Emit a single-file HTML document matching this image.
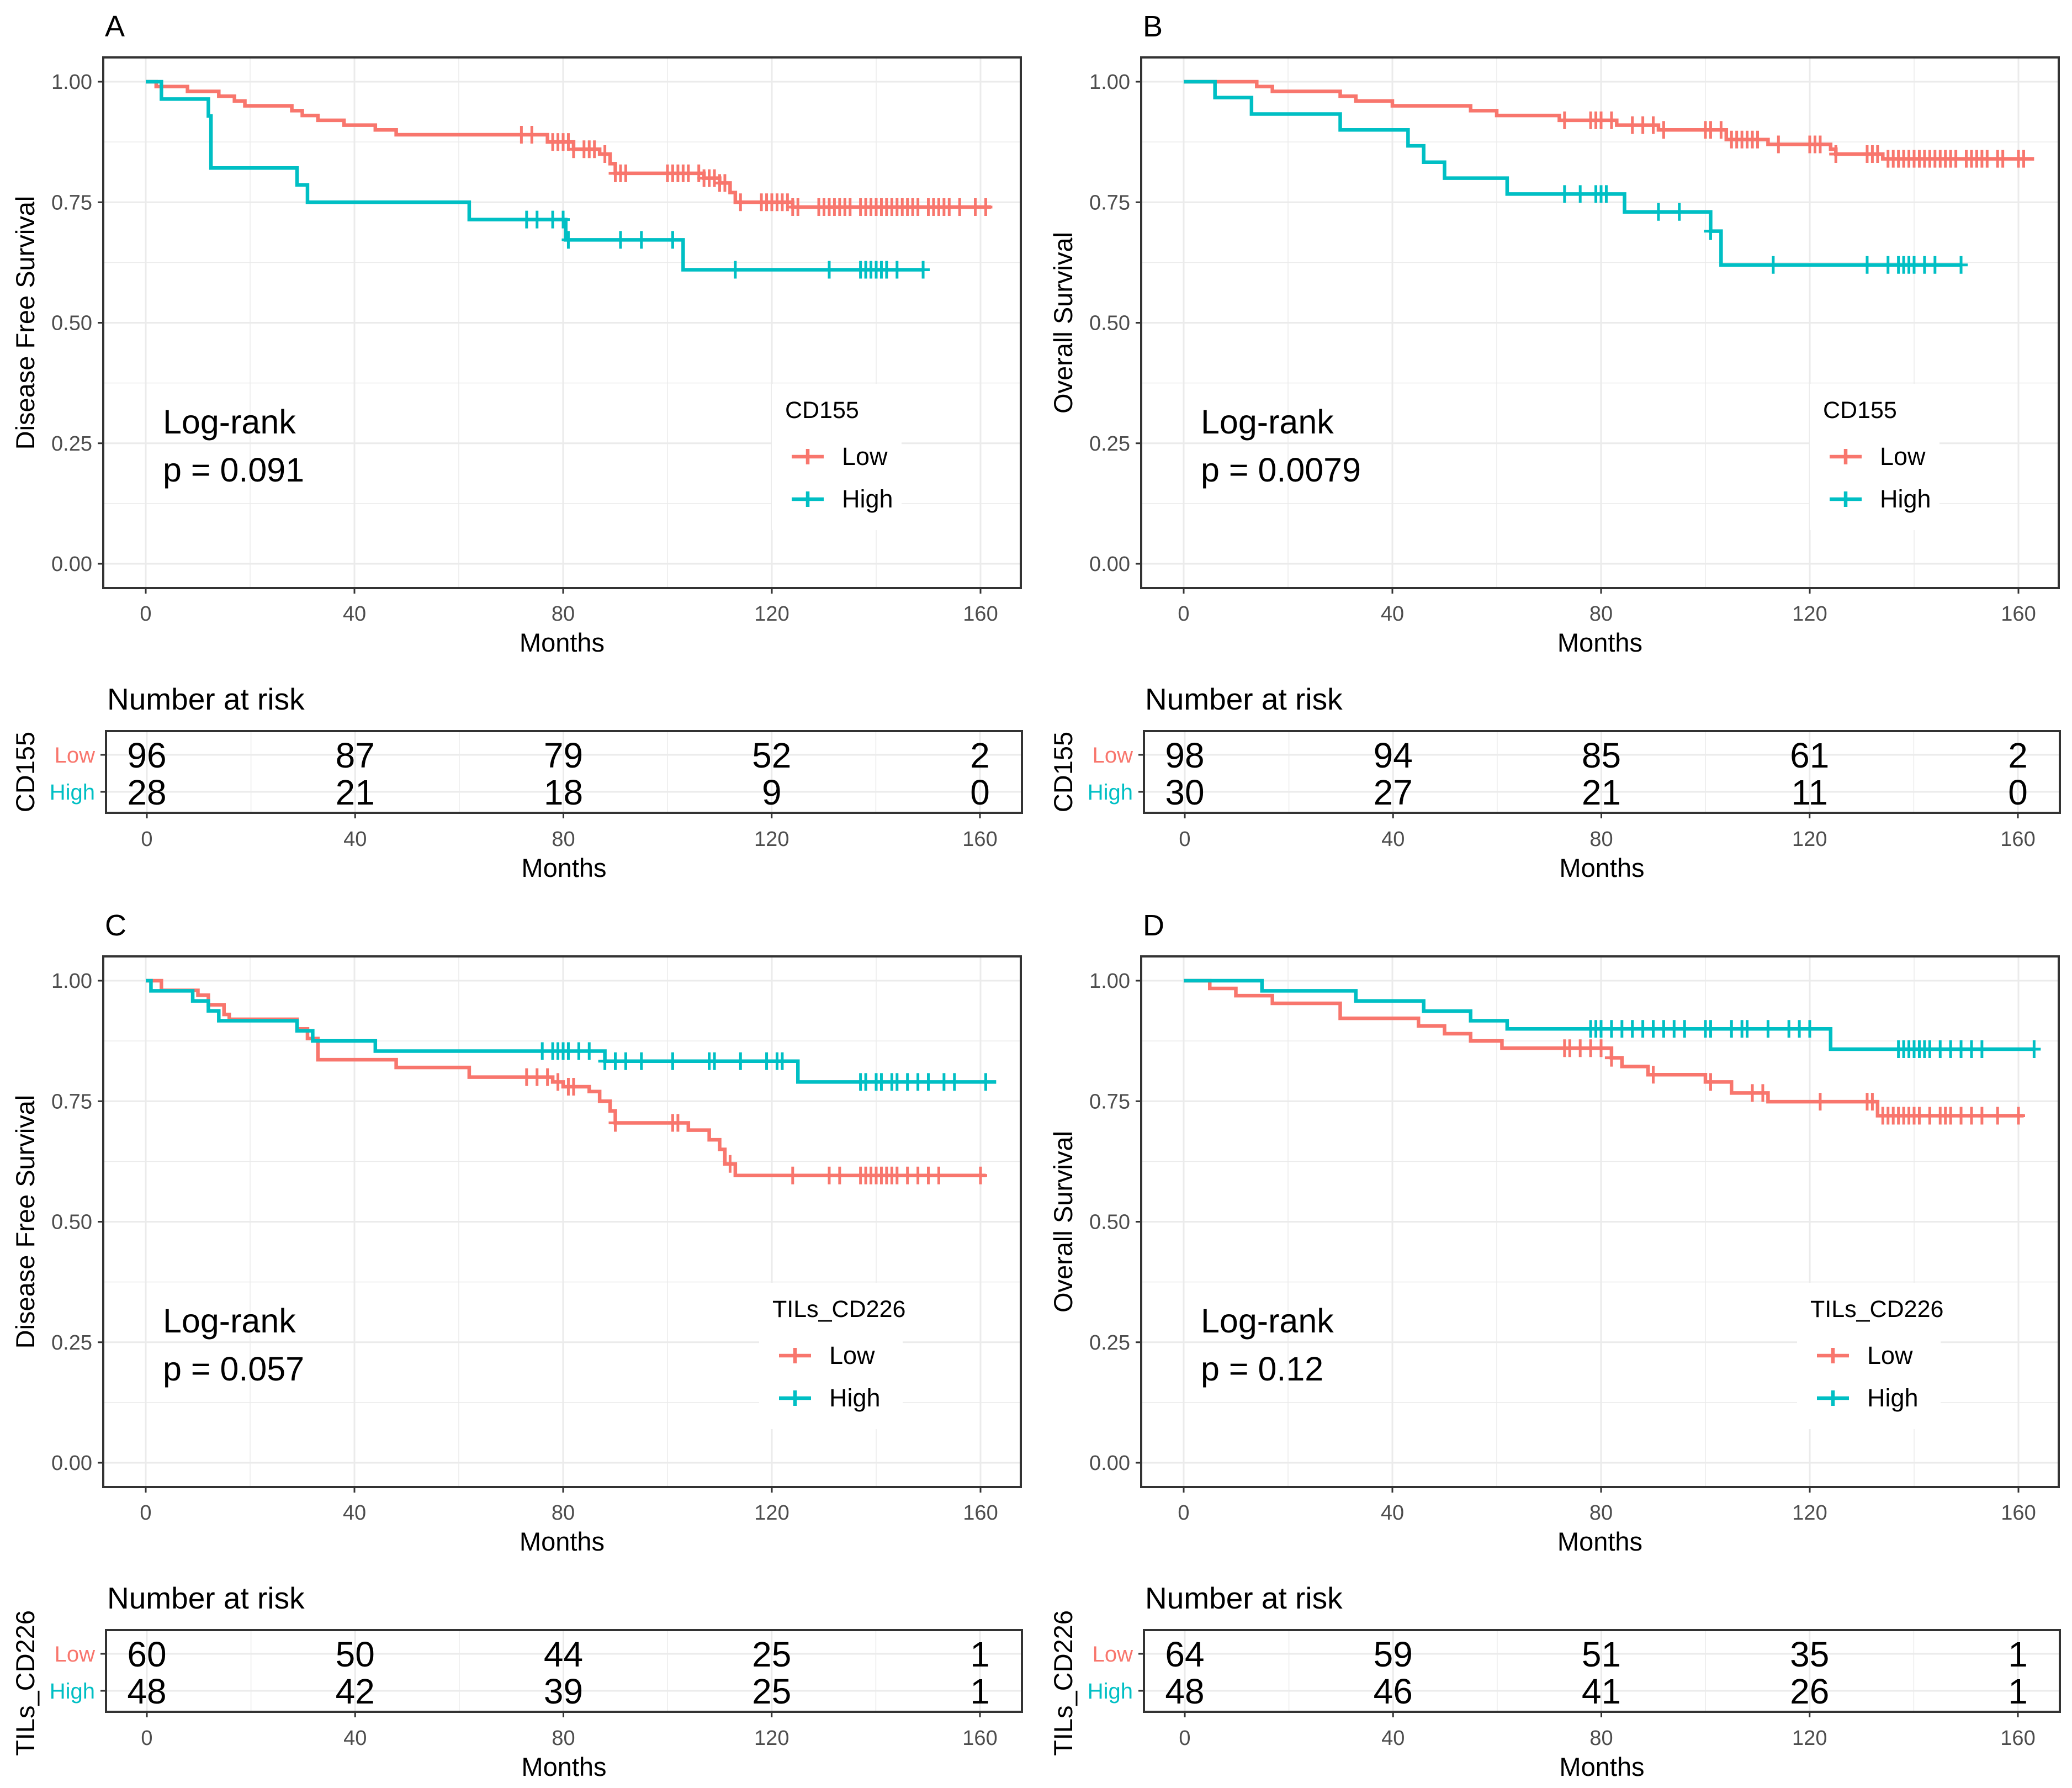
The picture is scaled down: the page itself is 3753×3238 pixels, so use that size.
<!DOCTYPE html>
<html><head><meta charset="utf-8"><style>
html,body{margin:0;padding:0;background:#fff;}
svg{display:block;font-family:"Liberation Sans",Arial,sans-serif;}
</style></head>
<body>
<svg id="fig" width="3753" height="3238" viewBox="0 0 3753 3238" xmlns="http://www.w3.org/2000/svg"></svg>
<script>
// ---------- DATA ----------
// Panel A (DFS, CD155)
const aLowT = [0,2,8,14,17,19,28,30,33,38,44,48,77,82,87,89,90,107,110,112,113,124];
const aLowS = [1,0.99,0.98,0.97,0.96,0.95,0.94,0.93,0.92,0.91,0.90,0.89,0.875,0.86,0.85,0.83,0.81,0.80,0.79,0.77,0.75,0.74];
const aLowEnd = 162;
const aLowC = [72,74,78,79,80,81,82,84,85,86,88,90,91,92,100,101,102,103,104,106,107,108,109,110,111,114,118,119,120,121,122,123,124,125,129,130,131,132,133,134,135,137,138,139,140,141,142,143,144,145,146,147,148,150,151,152,153,154,156,159,161];
const aHighT = [0,3,12,12.5,29,31,62,80.5,103];
const aHighS = [1,0.964,0.929,0.821,0.786,0.75,0.714,0.672,0.61];
const aHighEnd = 149;
const aHighC = [73,75,78,80,81,91,95,101,113,131,137,138,139,140,141,142,144,149];
// Panel B (OS, CD155)
const bLowT = [0,14,17,30,33,40,55,60,72,83,91,104,112,124,125,134];
const bLowS = [1,0.99,0.98,0.97,0.96,0.95,0.94,0.93,0.92,0.91,0.90,0.88,0.87,0.86,0.85,0.84];
const bLowEnd = 163;
const bLowC = [73,78,79,80,82,86,88,90,92,100,101,103,105,106,107,108,109,110,114,120,121,122,125,131,132,133,135,136,137,138,139,140,141,142,143,144,145,146,147,148,150,151,152,153,154,156,157,160,161];
const bHighT = [0,6,13,30,43,46,50,62,84.5,101,103];
const bHighS = [1,0.967,0.933,0.90,0.867,0.833,0.80,0.767,0.73,0.69,0.62];
const bHighEnd = 149;
const bHighC = [73,76,79,80,81,91,95,101,113,131,135,137,138,139,140,142,144,149];
// Panel C (DFS, TILs_CD226)
const cLowT = [0,3,10,12,15,16,29,31,33,48,62,78,80,85,87,89,90,104,108,110,111,113];
const cLowS = [1,0.98,0.97,0.95,0.93,0.92,0.90,0.88,0.836,0.82,0.80,0.79,0.78,0.77,0.75,0.73,0.705,0.69,0.67,0.65,0.62,0.596];
const cLowEnd = 161;
const cLowC = [73,75,77,79,81,82,90,101,102,112,124,131,133,137,138,139,140,141,142,143,144,146,148,150,152,160];
const cHighT = [0,1,9,12,14,29,32,44,88,125];
const cHighS = [1,0.979,0.958,0.9375,0.917,0.896,0.875,0.854,0.833,0.79];
const cHighEnd = 163;
const cHighC = [76,78,79,80,81,83,85,88,90,92,95,101,108,109,114,119,121,122,137,138,140,141,143,144,146,148,150,153,155,161];
// Panel D (OS, TILs_CD226)
const dLowT = [0,5,10,17,30,45,50,55,61,82,84,89,100,105,112,133];
const dLowS = [1,0.984,0.969,0.953,0.922,0.906,0.89,0.875,0.86,0.84,0.822,0.805,0.79,0.767,0.749,0.72];
const dLowEnd = 161;
const dLowC = [73,74,76,78,80,82,90,101,109,111,122,131,132,134,135,136,137,138,139,140,141,143,145,146,147,149,151,153,156,160];
const dHighT = [0,15,33,46,55,62,124];
const dHighS = [1,0.979,0.958,0.937,0.917,0.9,0.858];
const dHighEnd = 163;
const dHighC = [78,79,80,82,84,86,88,90,92,94,96,100,101,105,107,108,112,116,118,120,137,138,139,140,141,142,143,145,147,149,151,153,163];
// Risk tables
const riskTimes = [0,40,80,120,160];
const aRiskLow = [96,87,79,52,2], aRiskHigh = [28,21,18,9,0];
const bRiskLow = [98,94,85,61,2], bRiskHigh = [30,27,21,11,0];
const cRiskLow = [60,50,44,25,1], cRiskHigh = [48,42,39,25,1];
const dRiskLow = [64,59,51,35,1], dRiskHigh = [48,46,41,26,1];
const xTicks = [0,40,80,120,160];
const yTicks = [0,0.25,0.5,0.75,1];
const yTickLabels = ["0.00","0.25","0.50","0.75","1.00"];

// ---------- DRAW ----------
const NS="http://www.w3.org/2000/svg";
const svg=document.getElementById('fig');
const RED="#F8766D", TEAL="#00BFC4";
function mk(tag,attrs,parent,text){const e=document.createElementNS(NS,tag);for(const k in attrs)e.setAttribute(k,attrs[k]);if(text!==undefined)e.textContent=text;parent.appendChild(e);return e;}

const panels=[
 {id:'a',letter:'A',ox:0,oy:0,ytitle:'Disease Free Survival',strata:'CD155',p:'p = 0.091',
  low:[aLowT,aLowS,aLowEnd,aLowC],high:[aHighT,aHighS,aHighEnd,aHighC],rl:aRiskLow,rh:aRiskHigh},
 {id:'b',letter:'B',ox:1880,oy:0,ytitle:'Overall Survival',strata:'CD155',p:'p = 0.0079',
  low:[bLowT,bLowS,bLowEnd,bLowC],high:[bHighT,bHighS,bHighEnd,bHighC],rl:bRiskLow,rh:bRiskHigh},
 {id:'c',letter:'C',ox:0,oy:1628,ytitle:'Disease Free Survival',strata:'TILs_CD226',p:'p = 0.057',
  low:[cLowT,cLowS,cLowEnd,cLowC],high:[cHighT,cHighS,cHighEnd,cHighC],rl:cRiskLow,rh:cRiskHigh},
 {id:'d',letter:'D',ox:1880,oy:1628,ytitle:'Overall Survival',strata:'TILs_CD226',p:'p = 0.12',
  low:[dLowT,dLowS,dLowEnd,dLowC],high:[dHighT,dHighS,dHighEnd,dHighC],rl:dRiskLow,rh:dRiskHigh}
];

panels.forEach(P=>{
 const g=mk('g',{transform:`translate(${P.ox},${P.oy})`},svg);
 
 
 const L=187,R=1849,T=104,B=1065;
 const x=t=>264+(t/160)*(1776-264);
 const y=s=>1021-s*(1021-148);
 const lt=mk('text',{x:190,y:66,'font-size':54,fill:'#000'},g,P.letter);
 
 
 mk('rect',{x:L,y:T,width:R-L,height:B-T,fill:'#fff'},g);
 const grid=mk('g',{},g);
 
 
 for(let t=20;t<160;t+=40) mk('line',{x1:x(t),x2:x(t),y1:T,y2:B,stroke:'#EBEBEB','stroke-width':1.5},grid);
 for(let s=0.125;s<1;s+=0.25) mk('line',{x1:L,x2:R,y1:y(s),y2:y(s),stroke:'#EBEBEB','stroke-width':1.5},grid);
 xTicks.forEach(t=>mk('line',{x1:x(t),x2:x(t),y1:T,y2:B,stroke:'#EBEBEB','stroke-width':3},grid));
 yTicks.forEach(s=>mk('line',{x1:L,x2:R,y1:y(s),y2:y(s),stroke:'#EBEBEB','stroke-width':3},grid));
 [[P.low,RED,'low'],[P.high,TEAL,'high']].forEach(([d,col,nm])=>{
  const [Ts,Ss,end,Cs]=d;
  let path=`M${x(Ts[0])},${y(Ss[0])}`;
  for(let i=1;i<Ts.length;i++) path+=`H${x(Ts[i])}V${y(Ss[i])}`;
  path+=`H${x(end)}`;
  const pe=mk('path',{d:path,fill:'none',stroke:col,'stroke-width':6.5},g);
  
  
  const stepAt=t=>{let s=Ss[0];for(let i=0;i<Ts.length;i++){if(Ts[i]<=t)s=Ss[i];}return s;};
  Cs.forEach(t=>{
   const cx=x(t),cy=y(stepAt(t));
   const c=mk('path',{d:`M${cx-12},${cy}H${cx+12}M${cx},${cy-16}V${cy+16}`,stroke:col,'stroke-width':5,fill:'none'},g);
   
   
  });
 });
 mk('rect',{x:L,y:T,width:R-L,height:B-T,fill:'none',stroke:'#333','stroke-width':4},g);
 yTicks.forEach((s,i)=>{
  mk('line',{x1:L-10,x2:L,y1:y(s),y2:y(s),stroke:'#333','stroke-width':3},g);
  const tt=mk('text',{x:L-20,y:y(s)+13,'font-size':38,fill:'#4D4D4D','text-anchor':'end'},g,yTickLabels[i]);
  
  
 });
 xTicks.forEach(t=>{
  mk('line',{x1:x(t),x2:x(t),y1:B,y2:B+10,stroke:'#333','stroke-width':3},g);
  const tt=mk('text',{x:x(t),y:1124,'font-size':38,fill:'#4D4D4D','text-anchor':'middle'},g,String(t));
  
  
 });
 const xt=mk('text',{x:(L+R)/2,y:1180,'font-size':47,fill:'#000','text-anchor':'middle'},g,'Months');
 
 
 const yt=mk('text',{x:0,y:0,'font-size':47,fill:'#000','text-anchor':'middle',transform:`translate(62,${(T+B)/2}) rotate(-90)`},g,P.ytitle);
 
 
 const an1=mk('text',{x:295,y:785,'font-size':61,fill:'#000'},g,'Log-rank');
 
 
 const an2=mk('text',{x:295,y:872,'font-size':61,fill:'#000'},g,P.p);
 
 
 const lg=mk('g',{},g);
 
 
 const lw = P.strata==='CD155'?235:260, lx = P.strata==='CD155'?1398:1375;
 mk('rect',{x:lx,y:695,width:lw,height:265,fill:'#fff'},lg);
 mk('text',{x:lx+24,y:757,'font-size':43,fill:'#000'},lg,P.strata);
 [[RED,'Low',827],[TEAL,'High',904]].forEach(([col,lab,ly])=>{
  const kx=lx+65;
  const ke=mk('path',{d:`M${kx-29},${ly}H${kx+29}M${kx},${ly-14}V${ly+14}`,stroke:col,'stroke-width':6.5,fill:'none'},lg);
  
  
  const te=mk('text',{x:kx+62,y:ly+15,'font-size':45,fill:'#000'},lg,lab);
  
  
 });
 const rt=mk('g',{},g);
 
 
 const rL=192,rR=1851,rT=1324,rB=1472;
 const rx=t=>266+(t/160)*(1775-266);
 const rowY=[1367,1434];
 const tl=mk('text',{x:194,y:1285,'font-size':55,fill:'#000'},rt,'Number at risk');
 
 
 mk('rect',{x:rL,y:rT,width:rR-rL,height:rB-rT,fill:'#fff'},rt);
 for(let t=20;t<160;t+=40) mk('line',{x1:rx(t),x2:rx(t),y1:rT,y2:rB,stroke:'#EBEBEB','stroke-width':1.5},rt);
 xTicks.forEach(t=>mk('line',{x1:rx(t),x2:rx(t),y1:rT,y2:rB,stroke:'#EBEBEB','stroke-width':3},rt));
 rowY.forEach(yy=>mk('line',{x1:rL,x2:rR,y1:yy,y2:yy,stroke:'#EBEBEB','stroke-width':3},rt));
 [[P.rl,rowY[0]],[P.rh,rowY[1]]].forEach(([arr,yy],ri)=>{
  arr.forEach((v,i)=>{
   const ne=mk('text',{x:rx(riskTimes[i]),y:yy+23,'font-size':64,fill:'#000','text-anchor':'middle'},rt,String(v));
   
   
  });
 });
 mk('rect',{x:rL,y:rT,width:rR-rL,height:rB-rT,fill:'none',stroke:'#333','stroke-width':4},rt);
 [[RED,'Low',rowY[0]],[TEAL,'High',rowY[1]]].forEach(([col,lab,yy])=>{
  mk('line',{x1:rL-10,x2:rL,y1:yy,y2:yy,stroke:'#333','stroke-width':3},rt);
  const re=mk('text',{x:rL-20,y:yy+14,'font-size':40,fill:col,'text-anchor':'end'},rt,lab);
  
  
 });
 xTicks.forEach(t=>{
  mk('line',{x1:rx(t),x2:rx(t),y1:rB,y2:rB+10,stroke:'#333','stroke-width':3},rt);
  const tt=mk('text',{x:rx(t),y:1532,'font-size':38,fill:'#4D4D4D','text-anchor':'middle'},rt,String(t));
  
  
 });
 const rxt=mk('text',{x:(rL+rR)/2,y:1588,'font-size':47,fill:'#000','text-anchor':'middle'},rt,'Months');
 
 
 const ryt=mk('text',{x:0,y:0,'font-size':47,fill:'#000','text-anchor':'middle',transform:`translate(62,${P.strata==='CD155'?1398:1420}) rotate(-90)`},rt,P.strata);
 
 
});
</script>
</body></html>
